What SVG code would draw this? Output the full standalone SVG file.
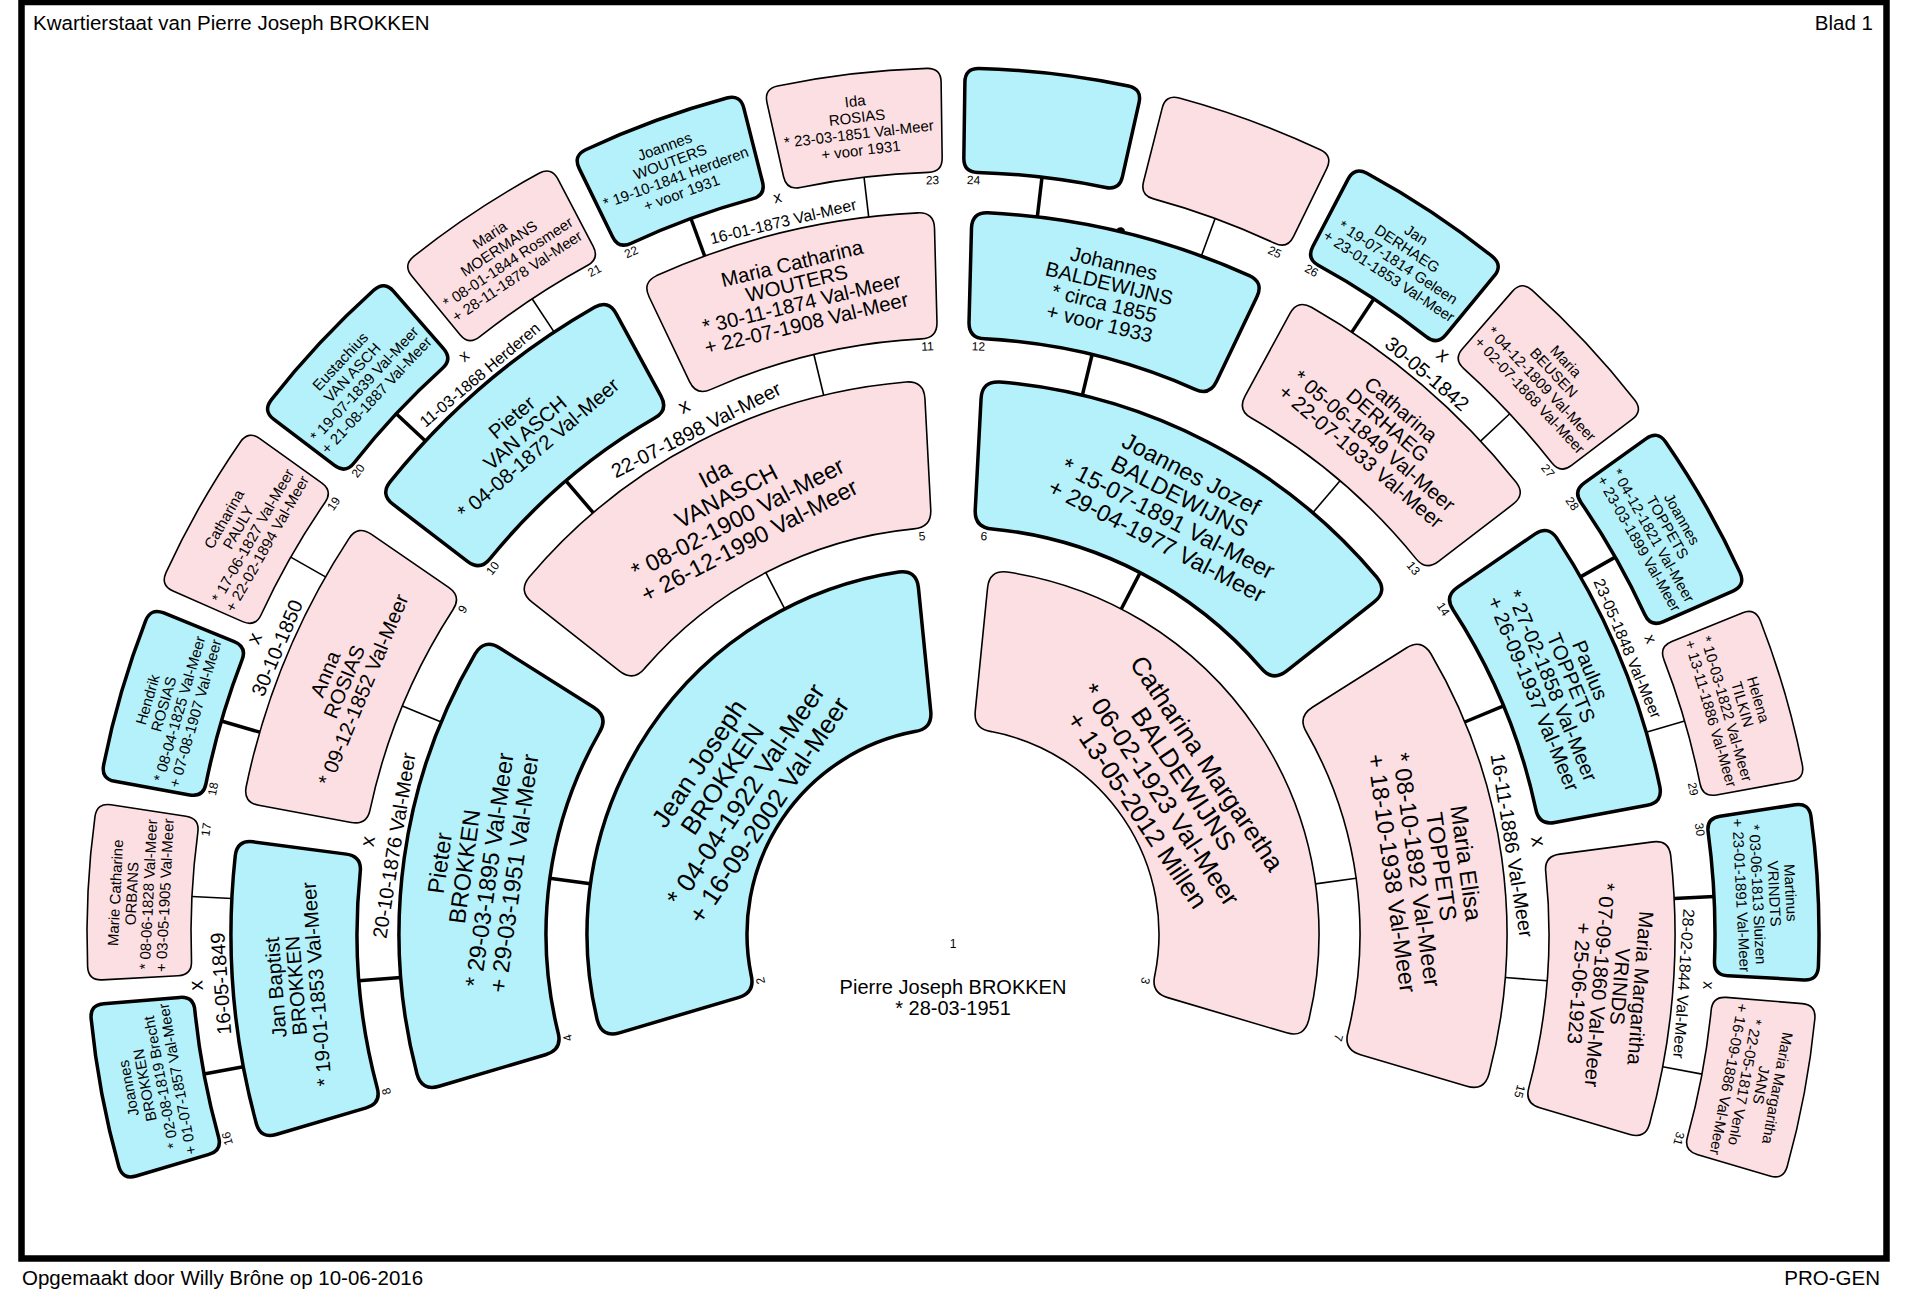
<svg xmlns="http://www.w3.org/2000/svg" xmlns:xlink="http://www.w3.org/1999/xlink" width="1920" height="1298" viewBox="0 0 1920 1298">
<style>
text { font-family: "Liberation Sans", Arial, sans-serif; fill: #000; }
.m { fill: #b4f1fa; stroke: #000; stroke-width: 3.5; }
.f { fill: #fcdfe3; stroke: #000; stroke-width: 1.6; }
.t1 { font-size: 26px; text-anchor: middle; }
.t2 { font-size: 23.5px; text-anchor: middle; }
.t3 { font-size: 20.4px; text-anchor: middle; }
.t4 { font-size: 15px; text-anchor: middle; }
.lb { font-size: 12px; text-anchor: middle; }
.mx { font-size: 20px; text-anchor: middle; }
.ms { font-size: 16px; text-anchor: middle; }
.hd { font-size: 20.5px; }
.cm { stroke: #000; stroke-width: 3.5; }
.cf { stroke: #000; stroke-width: 1.6; }
</style>
<defs>
<path id="s1" d="M682.80,687.12 A366,366 0 0 1 1223.20,687.12 Q1235.01,700.70 1221.14,712.17 L1125.59,791.22 Q1111.73,802.69 1099.66,789.34 A206,206 0 0 0 806.34,789.34 Q794.27,802.69 780.41,791.22 L684.86,712.17 Q670.99,700.70 682.80,687.12 Z"/>
<path id="s2" d="M740.88,422.22 A554,554 0 0 1 1165.12,422.22 Q1181.64,429.38 1174.21,445.77 L1128.40,546.88 Q1120.97,563.28 1104.42,556.21 A407,407 0 0 0 801.58,556.21 Q785.03,563.28 777.60,546.88 L731.79,445.77 Q724.36,429.38 740.88,422.22 Z"/>
<path id="s3" d="M818.57,224.62 A722,722 0 0 1 1087.43,224.62 Q1103.11,227.78 1099.78,243.43 L1080.24,335.37 Q1076.91,351.02 1061.23,347.91 A596,596 0 0 0 844.77,347.91 Q829.09,351.02 825.76,335.37 L806.22,243.43 Q802.89,227.78 818.57,224.62 Z"/>
<path id="s4" d="M877.82,71.26 A866,866 0 0 1 1028.18,71.26 Q1042.11,72.60 1040.67,86.52 L1032.85,162.12 Q1031.41,176.05 1017.47,174.74 A762,762 0 0 0 888.53,174.74 Q874.59,176.05 873.15,162.12 L865.33,86.52 Q863.89,72.60 877.82,71.26 Z"/>
</defs>

<rect x="21.5" y="2" width="1865" height="1256.5" fill="none" stroke="#000" stroke-width="6.5"/>
<text class="hd" x="33" y="30">Kwartierstaat van Pierre Joseph BROKKEN</text>
<text class="hd" x="1873" y="30" text-anchor="end">Blad 1</text>
<text class="hd" x="22" y="1285">Opgemaakt door Willy Brône op 10-06-2016</text>
<text class="hd" x="1880" y="1285" text-anchor="end">PRO-GEN</text>

<g id="connectors">
<g transform="rotate(-82.125 953 934)"><line class="cm" x1="953" y1="527" x2="953" y2="568"/></g>
<g transform="rotate(-27.375 953 934)"><line class="cf" x1="953" y1="527" x2="953" y2="568"/></g>
<g transform="rotate(27.375 953 934)"><line class="cm" x1="953" y1="527" x2="953" y2="568"/></g>
<g transform="rotate(82.125 953 934)"><line class="cf" x1="953" y1="527" x2="953" y2="568"/></g>

<g transform="rotate(-94.5 953 934)"><line class="cm" x1="953" y1="338" x2="953" y2="380"/></g>
<g transform="rotate(-67.5 953 934)"><line class="cf" x1="953" y1="338" x2="953" y2="380"/></g>
<g transform="rotate(-40.5 953 934)"><line class="cm" x1="953" y1="338" x2="953" y2="380"/></g>
<g transform="rotate(-13.5 953 934)"><line class="cf" x1="953" y1="338" x2="953" y2="380"/></g>
<g transform="rotate(13.5 953 934)"><line class="cm" x1="953" y1="338" x2="953" y2="380"/></g>
<g transform="rotate(40.5 953 934)"><line class="cf" x1="953" y1="338" x2="953" y2="380"/></g>
<g transform="rotate(67.5 953 934)"><line class="cm" x1="953" y1="338" x2="953" y2="380"/></g>
<g transform="rotate(94.5 953 934)"><line class="cf" x1="953" y1="338" x2="953" y2="380"/></g>

<g transform="rotate(-100.594 953 934)"><line class="cm" x1="953" y1="172" x2="953" y2="212"/></g>
<g transform="rotate(-87.181 953 934)"><line class="cf" x1="953" y1="172" x2="953" y2="212"/></g>
<g transform="rotate(-73.769 953 934)"><line class="cm" x1="953" y1="172" x2="953" y2="212"/></g>
<g transform="rotate(-60.356 953 934)"><line class="cf" x1="953" y1="172" x2="953" y2="212"/></g>
<g transform="rotate(-46.944 953 934)"><line class="cm" x1="953" y1="172" x2="953" y2="212"/></g>
<g transform="rotate(-33.531 953 934)"><line class="cf" x1="953" y1="172" x2="953" y2="212"/></g>
<g transform="rotate(-20.119 953 934)"><line class="cm" x1="953" y1="172" x2="953" y2="212"/></g>
<g transform="rotate(-6.706 953 934)"><line class="cf" x1="953" y1="172" x2="953" y2="212"/></g>
<g transform="rotate(6.706 953 934)"><line class="cm" x1="953" y1="172" x2="953" y2="212"/></g>
<g transform="rotate(20.119 953 934)"><line class="cf" x1="953" y1="172" x2="953" y2="212"/></g>
<g transform="rotate(33.531 953 934)"><line class="cm" x1="953" y1="172" x2="953" y2="212"/></g>
<g transform="rotate(46.944 953 934)"><line class="cf" x1="953" y1="172" x2="953" y2="212"/></g>
<g transform="rotate(60.356 953 934)"><line class="cm" x1="953" y1="172" x2="953" y2="212"/></g>
<g transform="rotate(73.769 953 934)"><line class="cf" x1="953" y1="172" x2="953" y2="212"/></g>
<g transform="rotate(87.181 953 934)"><line class="cm" x1="953" y1="172" x2="953" y2="212"/></g>
<g transform="rotate(100.594 953 934)"><line class="cf" x1="953" y1="172" x2="953" y2="212"/></g>
<circle cx="953" cy="212" r="4.5" fill="#000" transform="rotate(13.4125 953 934)"/>
</g>

<g id="marriages">
<g transform="rotate(-81 953 934)"><text class="mx" x="953" y="348">x</text><text class="mx" x="953" y="375">20-10-1876 Val-Meer</text></g>
<g transform="rotate(-27 953 934)"><text class="mx" x="953" y="348">x</text><text class="mx" x="953" y="375">22-07-1898 Val-Meer</text></g>
<g transform="rotate(81 953 934)"><text class="mx" x="953" y="348">x</text><text class="mx" x="953" y="375">16-11-1886 Val-Meer</text></g>
<g transform="rotate(-93.8875 953 934)"><text class="mx" x="953" y="182">x</text><text class="mx" x="953" y="207">16-05-1849</text></g>
<g transform="rotate(-67.0625 953 934)"><text class="mx" x="953" y="182">x</text><text class="mx" x="953" y="207">30-10-1850</text></g>
<g transform="rotate(-40.2375 953 934)"><text class="ms" x="953" y="182">x</text><text class="ms" x="953" y="207">11-03-1868 Herderen</text></g>
<g transform="rotate(-13.4125 953 934)"><text class="ms" x="953" y="182">x</text><text class="ms" x="953" y="207">16-01-1873 Val-Meer</text></g>
<g transform="rotate(40.2375 953 934)"><text class="mx" x="953" y="182">x</text><text class="mx" x="953" y="207">30-05-1842</text></g>
<g transform="rotate(67.0625 953 934)"><text class="ms" x="953" y="182">x</text><text class="ms" x="953" y="207">23-05-1848 Val-Meer</text></g>
<g transform="rotate(93.8875 953 934)"><text class="ms" x="953" y="182">x</text><text class="ms" x="953" y="207">28-02-1844 Val-Meer</text></g>
</g>

<g id="n1">
<text class="lb" x="953" y="948" font-size="13">1</text>
<text x="953" y="994" font-size="20" text-anchor="middle">Pierre Joseph BROKKEN</text>
<text x="953" y="1015" font-size="20" text-anchor="middle">* 28-03-1951</text>
</g>

<g id="n2" transform="rotate(-56.1 953 934)"><use xlink:href="#s1" class="m"/><text class="t1"><tspan x="953" y="637">Jean Joseph</tspan><tspan x="953" y="665">BROKKEN</tspan><tspan x="953" y="693">* 04-04-1922 Val-Meer</tspan><tspan x="953" y="721">+ 16-09-2002 Val-Meer</tspan></text><text class="lb" x="953" y="740" transform="rotate(-47.51 953 934)">2</text></g>
<g id="n3" transform="rotate(56.1 953 934)"><use xlink:href="#s1" class="f"/><text class="t1"><tspan x="953" y="637">Catharina Margaretha</tspan><tspan x="953" y="665">BALDEWIJNS</tspan><tspan x="953" y="693">* 06-02-1923 Val-Meer</tspan><tspan x="953" y="721">+ 13-05-2012 Millen</tspan></text><text class="lb" x="953" y="740" transform="rotate(47.51 953 934)">3</text></g>

<g id="n4" transform="rotate(-82.125 953 934)"><use xlink:href="#s2" class="m"/><text class="t2"><tspan x="953" y="424">Pieter</tspan><tspan x="953" y="449">BROKKEN</tspan><tspan x="953" y="474">* 29-03-1895 Val-Meer</tspan><tspan x="953" y="499">+ 29-03-1951 Val-Meer</tspan></text><text class="lb" x="953" y="539" transform="rotate(-22.939 953 934)">4</text></g>
<g id="n5" transform="rotate(-27.375 953 934)"><use xlink:href="#s2" class="f"/><text class="t2"><tspan x="953" y="424">Ida</tspan><tspan x="953" y="449">VANASCH</tspan><tspan x="953" y="474">* 08-02-1900 Val-Meer</tspan><tspan x="953" y="499">+ 26-12-1990 Val-Meer</tspan></text><text class="lb" x="953" y="539" transform="rotate(22.939 953 934)">5</text></g>
<g id="n6" transform="rotate(27.375 953 934)"><use xlink:href="#s2" class="m"/><text class="t2"><tspan x="953" y="424">Joannes Jozef</tspan><tspan x="953" y="449">BALDEWIJNS</tspan><tspan x="953" y="474">* 15-07-1891 Val-Meer</tspan><tspan x="953" y="499">+ 29-04-1977 Val-Meer</tspan></text><text class="lb" x="953" y="539" transform="rotate(-22.939 953 934)">6</text></g>
<g id="n7" transform="rotate(82.125 953 934)"><use xlink:href="#s2" class="f"/><text class="t2"><tspan x="953" y="424">Maria Elisa</tspan><tspan x="953" y="449">TOPPETS</tspan><tspan x="953" y="474">* 08-10-1892 Val-Meer</tspan><tspan x="953" y="499">+ 18-10-1938 Val-Meer</tspan></text><text class="lb" x="953" y="539" transform="rotate(22.939 953 934)">7</text></g>

<g id="n8" transform="rotate(-94.5 953 934)"><use xlink:href="#s3" class="m"/><text class="t3"><tspan x="953" y="261.6">Jan Baptist</tspan><tspan x="953" y="282.1">BROKKEN</tspan><tspan x="953" y="302.6">* 19-01-1853 Val-Meer</tspan></text><text class="lb" x="953" y="350" transform="rotate(-11.026 953 934)">8</text></g>
<g id="n9" transform="rotate(-67.5 953 934)"><use xlink:href="#s3" class="f"/><text class="t3"><tspan x="953" y="261.6">Anna</tspan><tspan x="953" y="282.1">ROSIAS</tspan><tspan x="953" y="302.6">* 09-12-1852 Val-Meer</tspan></text><text class="lb" x="953" y="350" transform="rotate(11.026 953 934)">9</text></g>
<g id="n10" transform="rotate(-40.5 953 934)"><use xlink:href="#s3" class="m"/><text class="t3"><tspan x="953" y="261.6">Pieter</tspan><tspan x="953" y="282.1">VAN ASCH</tspan><tspan x="953" y="302.6">* 04-08-1872 Val-Meer</tspan></text><text class="lb" x="953" y="350" transform="rotate(-11.026 953 934)">10</text></g>
<g id="n11" transform="rotate(-13.5 953 934)"><use xlink:href="#s3" class="f"/><text class="t3"><tspan x="953" y="251.4">Maria Catharina</tspan><tspan x="953" y="271.9">WOUTERS</tspan><tspan x="953" y="292.4">* 30-11-1874 Val-Meer</tspan><tspan x="953" y="312.9">+ 22-07-1908 Val-Meer</tspan></text><text class="lb" x="953" y="350" transform="rotate(11.026 953 934)">11</text></g>
<g id="n12" transform="rotate(13.5 953 934)"><use xlink:href="#s3" class="m"/><text class="t3"><tspan x="953" y="251.4">Johannes</tspan><tspan x="953" y="271.9">BALDEWIJNS</tspan><tspan x="953" y="292.4">* circa 1855</tspan><tspan x="953" y="312.9">+ voor 1933</tspan></text><text class="lb" x="953" y="350" transform="rotate(-11.026 953 934)">12</text></g>
<g id="n13" transform="rotate(40.5 953 934)"><use xlink:href="#s3" class="f"/><text class="t3"><tspan x="953" y="251.4">Catharina</tspan><tspan x="953" y="271.9">DERHAEG</tspan><tspan x="953" y="292.4">* 05-06-1849 Val-Meer</tspan><tspan x="953" y="312.9">+ 22-07-1933 Val-Meer</tspan></text><text class="lb" x="953" y="350" transform="rotate(11.026 953 934)">13</text></g>
<g id="n14" transform="rotate(67.5 953 934)"><use xlink:href="#s3" class="m"/><text class="t3"><tspan x="953" y="251.4">Paulus</tspan><tspan x="953" y="271.9">TOPPETS</tspan><tspan x="953" y="292.4">* 27-02-1858 Val-Meer</tspan><tspan x="953" y="312.9">+ 26-09-1937 Val-Meer</tspan></text><text class="lb" x="953" y="350" transform="rotate(-11.026 953 934)">14</text></g>
<g id="n15" transform="rotate(94.5 953 934)"><use xlink:href="#s3" class="f"/><text class="t3"><tspan x="953" y="251.4">Maria Margaritha</tspan><tspan x="953" y="271.9">VRINDS</tspan><tspan x="953" y="292.4">* 07-09-1860 Val-Meer</tspan><tspan x="953" y="312.9">+ 25-06-1923</tspan></text><text class="lb" x="953" y="350" transform="rotate(11.026 953 934)">15</text></g>

<g id="n16" transform="rotate(-100.594 953 934)"><use xlink:href="#s4" class="m"/><text class="t4"><tspan x="953" y="100.5">Joannes</tspan><tspan x="953" y="117">BROKKEN</tspan><tspan x="953" y="133.5">* 02-08-1819 Brecht</tspan><tspan x="953" y="150">+ 01-07-1857 Val-Meer</tspan></text><text class="lb" x="953" y="184" transform="rotate(-5.146 953 934)">16</text></g>
<g id="n17" transform="rotate(-87.181 953 934)"><use xlink:href="#s4" class="f"/><text class="t4"><tspan x="953" y="100.5">Marie Catharine</tspan><tspan x="953" y="117">ORBANS</tspan><tspan x="953" y="133.5">* 08-06-1828 Val-Meer</tspan><tspan x="953" y="150">+ 03-05-1905 Val-Meer</tspan></text><text class="lb" x="953" y="184" transform="rotate(5.146 953 934)">17</text></g>
<g id="n18" transform="rotate(-73.769 953 934)"><use xlink:href="#s4" class="m"/><text class="t4"><tspan x="953" y="100.5">Hendrik</tspan><tspan x="953" y="117">ROSIAS</tspan><tspan x="953" y="133.5">* 08-04-1825 Val-Meer</tspan><tspan x="953" y="150">+ 07-08-1907 Val-Meer</tspan></text><text class="lb" x="953" y="184" transform="rotate(-5.146 953 934)">18</text></g>
<g id="n19" transform="rotate(-60.356 953 934)"><use xlink:href="#s4" class="f"/><text class="t4"><tspan x="953" y="100.5">Catharina</tspan><tspan x="953" y="117">PAULY</tspan><tspan x="953" y="133.5">* 17-06-1827 Val-Meer</tspan><tspan x="953" y="150">+ 22-02-1894 Val-Meer</tspan></text><text class="lb" x="953" y="184" transform="rotate(5.146 953 934)">19</text></g>
<g id="n20" transform="rotate(-46.944 953 934)"><use xlink:href="#s4" class="m"/><text class="t4"><tspan x="953" y="100.5">Eustachius</tspan><tspan x="953" y="117">VAN ASCH</tspan><tspan x="953" y="133.5">* 19-07-1839 Val-Meer</tspan><tspan x="953" y="150">+ 21-08-1887 Val-Meer</tspan></text><text class="lb" x="953" y="184" transform="rotate(-5.146 953 934)">20</text></g>
<g id="n21" transform="rotate(-33.531 953 934)"><use xlink:href="#s4" class="f"/><text class="t4"><tspan x="953" y="100.5">Maria</tspan><tspan x="953" y="117">MOERMANS</tspan><tspan x="953" y="133.5">* 08-01-1844 Rosmeer</tspan><tspan x="953" y="150">+ 28-11-1878 Val-Meer</tspan></text><text class="lb" x="953" y="184" transform="rotate(5.146 953 934)">21</text></g>
<g id="n22" transform="rotate(-20.119 953 934)"><use xlink:href="#s4" class="m"/><text class="t4"><tspan x="953" y="100.5">Joannes</tspan><tspan x="953" y="117">WOUTERS</tspan><tspan x="953" y="133.5">* 19-10-1841 Herderen</tspan><tspan x="953" y="150">+ voor 1931</tspan></text><text class="lb" x="953" y="184" transform="rotate(-5.146 953 934)">22</text></g>
<g id="n23" transform="rotate(-6.706 953 934)"><use xlink:href="#s4" class="f"/><text class="t4"><tspan x="953" y="100.5">Ida</tspan><tspan x="953" y="117">ROSIAS</tspan><tspan x="953" y="133.5">* 23-03-1851 Val-Meer</tspan><tspan x="953" y="150">+ voor 1931</tspan></text><text class="lb" x="953" y="184" transform="rotate(5.146 953 934)">23</text></g>
<g id="n24" transform="rotate(6.706 953 934)"><use xlink:href="#s4" class="m"/><text class="lb" x="953" y="184" transform="rotate(-5.146 953 934)">24</text></g>
<g id="n25" transform="rotate(20.119 953 934)"><use xlink:href="#s4" class="f"/><text class="lb" x="953" y="184" transform="rotate(5.146 953 934)">25</text></g>
<g id="n26" transform="rotate(33.531 953 934)"><use xlink:href="#s4" class="m"/><text class="t4"><tspan x="953" y="100.5">Jan</tspan><tspan x="953" y="117">DERHAEG</tspan><tspan x="953" y="133.5">* 19-07-1814 Geleen</tspan><tspan x="953" y="150">+ 23-01-1853 Val-Meer</tspan></text><text class="lb" x="953" y="184" transform="rotate(-5.146 953 934)">26</text></g>
<g id="n27" transform="rotate(46.944 953 934)"><use xlink:href="#s4" class="f"/><text class="t4"><tspan x="953" y="100.5">Maria</tspan><tspan x="953" y="117">BEUSEN</tspan><tspan x="953" y="133.5">* 04-12-1809 Val-Meer</tspan><tspan x="953" y="150">+ 02-07-1868 Val-Meer</tspan></text><text class="lb" x="953" y="184" transform="rotate(5.146 953 934)">27</text></g>
<g id="n28" transform="rotate(60.356 953 934)"><use xlink:href="#s4" class="m"/><text class="t4"><tspan x="953" y="100.5">Joannes</tspan><tspan x="953" y="117">TOPPETS</tspan><tspan x="953" y="133.5">* 04-12-1821 Val-Meer</tspan><tspan x="953" y="150">+ 23-03-1899 Val-Meer</tspan></text><text class="lb" x="953" y="184" transform="rotate(-5.146 953 934)">28</text></g>
<g id="n29" transform="rotate(73.769 953 934)"><use xlink:href="#s4" class="f"/><text class="t4"><tspan x="953" y="100.5">Helena</tspan><tspan x="953" y="117">TILKIN</tspan><tspan x="953" y="133.5">* 10-03-1822 Val-Meer</tspan><tspan x="953" y="150">+ 13-11-1886 Val-Meer</tspan></text><text class="lb" x="953" y="184" transform="rotate(5.146 953 934)">29</text></g>
<g id="n30" transform="rotate(87.181 953 934)"><use xlink:href="#s4" class="m"/><text class="t4"><tspan x="953" y="100.5">Martinus</tspan><tspan x="953" y="117">VRINDTS</tspan><tspan x="953" y="133.5">* 03-06-1813 Sluizen</tspan><tspan x="953" y="150">+ 23-01-1891 Val-Meer</tspan></text><text class="lb" x="953" y="184" transform="rotate(-5.146 953 934)">30</text></g>
<g id="n31" transform="rotate(100.594 953 934)"><use xlink:href="#s4" class="f"/><text class="t4"><tspan x="953" y="100.5">Maria Margaritha</tspan><tspan x="953" y="117">JANS</tspan><tspan x="953" y="133.5">* 22-05-1817 Venlo</tspan><tspan x="953" y="150">+ 16-09-1886 Val-Meer</tspan></text><text class="lb" x="953" y="184" transform="rotate(5.146 953 934)">31</text></g>
</svg>
